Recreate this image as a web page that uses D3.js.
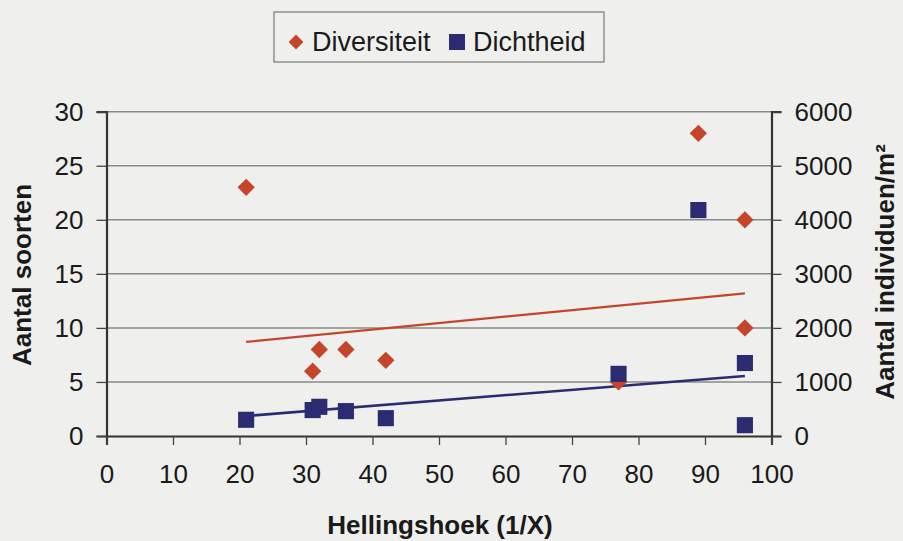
<!DOCTYPE html>
<html>
<head>
<meta charset="utf-8">
<script src="https://cdn.jsdelivr.net/npm/d3@7"></script>
<style>
  body { margin: 0; background: #efefed; }
  svg { display: block; font-family: "Liberation Sans", Arial, sans-serif; }
  .tick-label { font-size: 26px; fill: #1a1a1a; }
  .title { font-size: 26px; font-weight: bold; fill: #1a1a1a; }
  .legend-text { font-size: 27px; fill: #1a1a1a; }
</style>
</head>
<body>
<div id="chart"></div>
<script>
// hellingshoek (1/X) per site
let hoek = [21, 31, 32, 36, 42, 77, 89, 96, 96];
// diversiteit (aantal soorten)
let diversiteit = [23, 6, 8, 8, 7, 5, 28, 20, 10];
// dichtheid (aantal individuen/m2)
let dichtheid = [300, 480, 540, 460, 330, 1150, 4180, 1350, 200];
// trendlines [x, y]
let trendDiversiteit = [[21, 8.7], [96, 13.2]];
let trendDichtheid = [[21, 370], [96, 1110]];

let xTicks = [0, 10, 20, 30, 40, 50, 60, 70, 80, 90, 100];
let leftTicks = [0, 5, 10, 15, 20, 25, 30];
let rightTicks = [0, 1000, 2000, 3000, 4000, 5000, 6000];

let width = 903;
let height = 541;
let margin = {top: 111.7, right: 131.5, bottom: 105, left: 106.5};

let red = "#c4452c";
let navy = "#2b2b72";

let svg = d3.select("div#chart").append("svg")
    .attr("width", width)
    .attr("height", height);

let x = d3.scaleLinear().domain([0, 100]).range([margin.left, width - margin.right]);
let yLeft = d3.scaleLinear().domain([0, 30]).range([height - margin.bottom, margin.top]);
let yRight = d3.scaleLinear().domain([0, 6000]).range([height - margin.bottom, margin.top]);

// gridlines
svg.append("g")
    .selectAll("line")
    .data(leftTicks.filter(t => t > 0))
    .join("line")
    .attr("x1", x(0))
    .attr("x2", x(100))
    .attr("y1", d => yLeft(d))
    .attr("y2", d => yLeft(d))
    .attr("stroke", "#8a8a8a")
    .attr("stroke-width", 1.5);

// left axis
let leftAxis = svg.append("g")
    .attr("transform", "translate(" + x(0) + ",0)")
    .call(d3.axisLeft(yLeft).tickValues(leftTicks).tickSize(10).tickPadding(13));

// right axis
let rightAxis = svg.append("g")
    .attr("transform", "translate(" + x(100) + ",0)")
    .call(d3.axisRight(yRight).tickValues(rightTicks).tickFormat(d3.format("d")).tickSize(10).tickPadding(13));

// bottom axis
let bottomAxis = svg.append("g")
    .attr("transform", "translate(0," + yLeft(0) + ")")
    .call(d3.axisBottom(x).tickValues(xTicks).tickSize(9).tickPadding(20));

[leftAxis, rightAxis, bottomAxis].forEach(a => {
    a.select(".domain").attr("stroke", "#333").attr("stroke-width", 2.2);
    a.selectAll(".tick line").attr("stroke", "#444").attr("stroke-width", 1.3);
    a.selectAll(".tick text")
        .attr("class", "tick-label")
        .attr("font-family", null)
        .attr("font-size", null)
        .attr("fill", null);
});

// trendlines
let line = d3.line();

svg.append("path")
    .datum(trendDiversiteit.map(d => [x(d[0]), yLeft(d[1])]))
    .attr("d", line)
    .attr("fill", "none")
    .attr("stroke", red)
    .attr("stroke-width", 2.2);

svg.append("path")
    .datum(trendDichtheid.map(d => [x(d[0]), yRight(d[1])]))
    .attr("d", line)
    .attr("fill", "none")
    .attr("stroke", navy)
    .attr("stroke-width", 2.5);

let diamond = d3.symbol(d3.symbolSquare, 150);
let square = d3.symbol(d3.symbolSquare, 260);

// markers
svg.append("g")
    .selectAll("path")
    .data(hoek.map((h, i) => [h, diversiteit[i]]))
    .join("path")
    .attr("d", diamond)
    .attr("transform", d => "translate(" + x(d[0]) + "," + yLeft(d[1]) + ") rotate(45)")
    .attr("fill", red);

svg.append("g")
    .selectAll("path")
    .data(hoek.map((h, i) => [h, dichtheid[i]]))
    .join("path")
    .attr("d", square)
    .attr("transform", d => "translate(" + x(d[0]) + "," + yRight(d[1]) + ")")
    .attr("fill", navy);

// axis titles
svg.append("text")
    .attr("class", "title")
    .attr("text-anchor", "middle")
    .attr("x", 440)
    .attr("y", 534)
    .text("Hellingshoek (1/X)");

svg.append("text")
    .attr("class", "title")
    .attr("text-anchor", "middle")
    .attr("transform", "translate(31, 275) rotate(-90)")
    .text("Aantal soorten");

svg.append("text")
    .attr("class", "title")
    .attr("text-anchor", "middle")
    .attr("transform", "translate(894, 272) rotate(-90)")
    .text("Aantal individuen/m²");

// legend
let legend = svg.append("g");
legend.append("rect")
    .attr("x", 274)
    .attr("y", 12)
    .attr("width", 330)
    .attr("height", 50)
    .attr("fill", "none")
    .attr("stroke", "#777")
    .attr("stroke-width", 1.2);

legend.append("path")
    .attr("d", d3.symbol(d3.symbolSquare, 110))
    .attr("transform", "translate(296,42) rotate(45)")
    .attr("fill", red);
legend.append("text")
    .attr("class", "legend-text")
    .attr("x", 312)
    .attr("y", 51)
    .text("Diversiteit");

legend.append("rect")
    .attr("x", 449)
    .attr("y", 34)
    .attr("width", 16)
    .attr("height", 16)
    .attr("fill", navy);
legend.append("text")
    .attr("class", "legend-text")
    .attr("x", 473)
    .attr("y", 51)
    .text("Dichtheid");
</script>
</body>
</html>
